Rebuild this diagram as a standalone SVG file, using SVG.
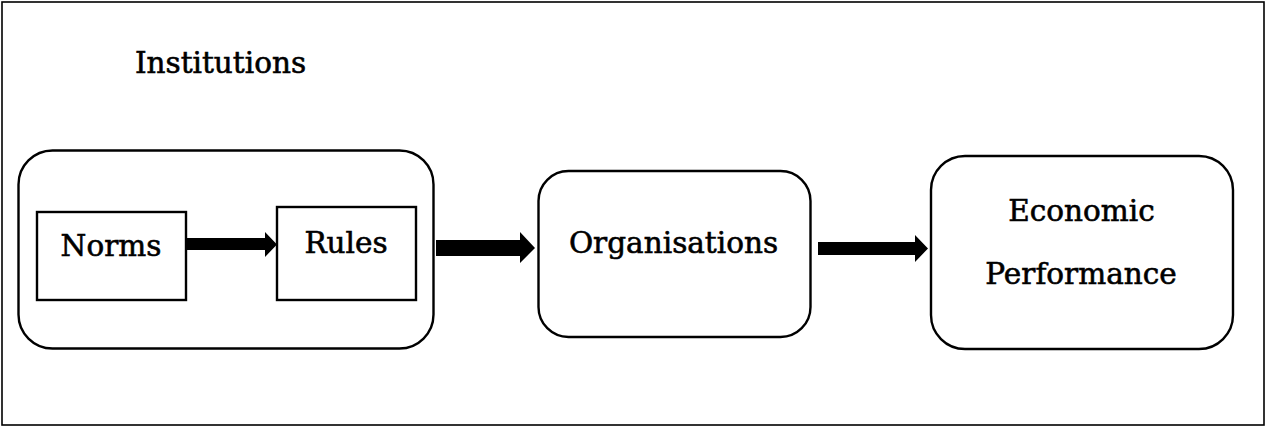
<svg xmlns="http://www.w3.org/2000/svg" width="1266" height="427" viewBox="0 0 1266 427">
<style>
.box{fill:#fff;stroke:#000;stroke-width:2.4}
.lbl{font-family:"DejaVu Serif","Liberation Serif",serif;font-size:29.5px;fill:#000;stroke:#000;stroke-width:0.6;text-anchor:middle}
.arr{fill:#000;stroke:none}
</style>
<rect x="2" y="2" width="1262" height="423" fill="#fff" stroke="#000" stroke-width="1.6"/>
<g id="institutions">
<rect class="box" x="18.5" y="150.5" width="415" height="198" rx="34" ry="34"/>
<text class="lbl" x="220.5" y="73">Institutions</text>
</g>
<g id="norms">
<rect class="box" x="37" y="212" width="149" height="88"/>
<text class="lbl" x="111" y="256">Norms</text>
</g>
<g id="rules">
<rect class="box" x="277" y="207" width="139" height="93"/>
<text class="lbl" x="346" y="253">Rules</text>
</g>
<g id="organisations">
<rect class="box" x="538.5" y="171" width="272" height="166" rx="30" ry="30"/>
<text class="lbl" x="673.5" y="253">Organisations</text>
</g>
<g id="economic-performance">
<rect class="box" x="931" y="156" width="302" height="193" rx="34" ry="34"/>
<text class="lbl" x="1081.5" y="221">Economic</text>
<text class="lbl" x="1081" y="284">Performance</text>
</g>
<g id="connectors">
<polygon class="arr" points="186,238 265,238 265,232 277,244.5 265,257 265,250 186,250"/>
<polygon class="arr" points="436,240 520,240 520,232 535,248 520,263 520,256 436,256"/>
<polygon class="arr" points="818,242 915,242 915,235 928,248.5 915,262 915,255 818,255"/>
</g>
</svg>
